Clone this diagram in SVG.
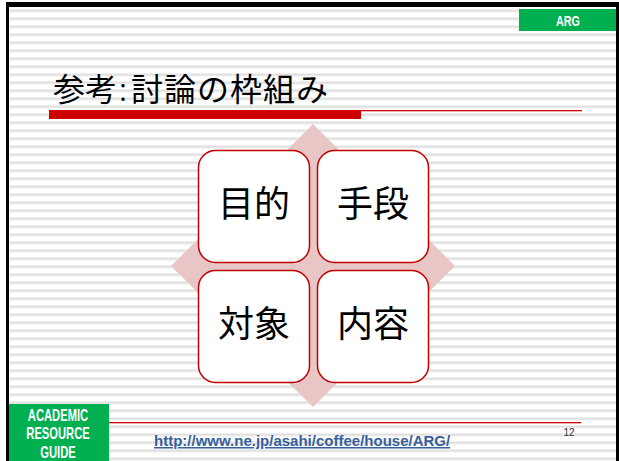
<svg xmlns="http://www.w3.org/2000/svg" width="619" height="461" viewBox="0 0 619 461">
<defs>
<pattern id="stripes" patternUnits="userSpaceOnUse" x="0" y="9.5" width="8" height="8">
<rect x="0" y="0" width="8" height="8" fill="#ffffff"/>
<rect x="0" y="0" width="8" height="2.5" fill="#e0e0e0"/>
</pattern>
<style>
.cjk{font-family:"Noto Sans CJK JP","Noto Sans CJK SC",sans-serif;fill:#000}
.box{fill:#ffffff;stroke:#c00000;stroke-width:1.5}
.boxtxt{font-size:36px;text-anchor:middle}
.cond{font-family:"Liberation Sans Narrow","Liberation Sans",Arial,sans-serif;font-weight:bold;fill:#ffffff;text-anchor:middle}
</style>
</defs>
<rect x="0" y="0" width="619" height="461" fill="#ffffff"/>
<rect x="6" y="2" width="613" height="459" fill="#000000"/>
<rect x="9" y="7" width="607" height="454" fill="url(#stripes)"/>

<g id="header">
<rect x="519" y="9" width="97" height="22" fill="#00b050"/>
<text class="cond" font-size="15" transform="translate(568,25.5) scale(0.72,1)">ARG</text>
</g>

<g id="title">
<text y="101" class="cjk" font-size="32"><tspan x="53">参考</tspan><tspan x="119" font-weight="300">:</tspan><tspan x="131" letter-spacing="1">討論の枠組み</tspan></text>
<rect x="49" y="110" width="312" height="9" fill="#cc0000"/>
<rect x="361" y="110" width="221" height="1.3" fill="#cc0000"/>
</g>

<g id="diamond">
<polygon points="313,124 455,266 313,407 171,266" fill="#e8c6c6"/>
</g>

<g id="node-mokuteki">
<rect class="box" x="198.5" y="150.5" width="111" height="112" rx="17" ry="17"/>
<text class="cjk boxtxt" x="254" y="217">目的</text>
</g>
<g id="node-shudan">
<rect class="box" x="317.5" y="150.5" width="111" height="112" rx="17" ry="17"/>
<text class="cjk boxtxt" x="373" y="217">手段</text>
</g>
<g id="node-taisho">
<rect class="box" x="198.5" y="270.5" width="111" height="112" rx="17" ry="17"/>
<text class="cjk boxtxt" x="254" y="337">対象</text>
</g>
<g id="node-naiyo">
<rect class="box" x="317.5" y="270.5" width="111" height="112" rx="17" ry="17"/>
<text class="cjk boxtxt" x="373" y="337">内容</text>
</g>

<g id="connectors"></g>

<g id="footer">
<rect x="9" y="404" width="100" height="57" fill="#00b050"/>
<text class="cond" font-size="16" transform="translate(58,420.5) scale(0.7,1)">ACADEMIC</text>
<text class="cond" font-size="16" transform="translate(58,439) scale(0.7,1)">RESOURCE</text>
<text class="cond" font-size="16" transform="translate(58,457.5) scale(0.7,1)">GUIDE</text>
<rect x="109" y="422" width="472" height="1.3" fill="#cc0000"/>
<text x="154" y="446" font-family="'Liberation Sans',Arial,sans-serif" font-weight="bold" font-size="15" fill="#365f9c" text-decoration="underline">http://www.ne.jp/asahi/coffee/house/ARG/</text>
<text x="569" y="436" font-family="'Liberation Sans',Arial,sans-serif" font-size="10" fill="#333333" text-anchor="middle">12</text>
</g>
</svg>
